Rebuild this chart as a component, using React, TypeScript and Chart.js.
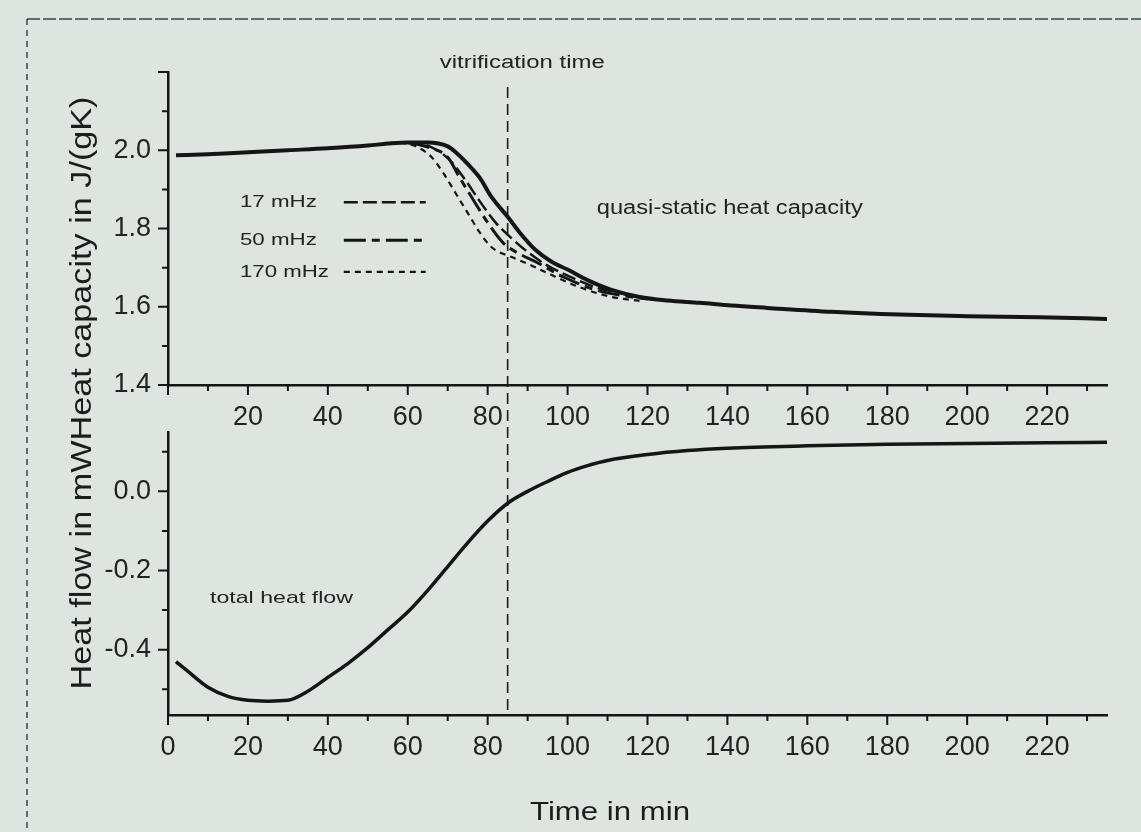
import React, { useEffect, useRef } from 'react';
import { Chart, registerables } from 'chart.js';

Chart.register(...registerables);

const FONT = "'Liberation Sans', Arial, Helvetica, sans-serif";
const INK = '#151515';
const BG = '#dee5e0';

// ---- axes ----
const X_TICK_VALUES = [0, 20, 40, 60, 80, 100, 120, 140, 160, 180, 200, 220];
const X_TICK_LABELS = ['0', '20', '40', '60', '80', '100', '120', '140', '160', '180', '200', '220'];
const X_MINOR_TICKS = [10, 30, 50, 70, 90, 110, 130, 150, 170, 190, 210, 230];

const Y_TOP_TICK_VALUES = [1.4, 1.6, 1.8, 2.0, 2.2];
const Y_TOP_TICK_LABELS = ['1.4', '1.6', '1.8', '2.0', ''];
const Y_TOP_MINOR_TICKS = [1.5, 1.7, 1.9, 2.1];

const Y_BOT_TICK_VALUES = [-0.4, -0.2, 0.0];
const Y_BOT_TICK_LABELS = ['-0.4', '-0.2', '0.0'];
const Y_BOT_MINOR_TICKS = [-0.5, -0.3, -0.1, 0.1];

const VITRIFICATION_TIME = 85;

// ---- heat capacity (top panel) ----
const TIME_QS = [2, 10, 20, 30, 40, 50, 55, 60, 65, 70, 72, 75, 78, 81, 85, 88, 92, 96, 100, 105, 111, 118, 125, 133, 141, 150, 166, 183, 200, 218, 235];
const CP_QS = [1.987, 1.99, 1.995, 2.0, 2.005, 2.012, 2.017, 2.02, 2.02, 2.01, 1.995, 1.965, 1.93, 1.88, 1.83, 1.79, 1.745, 1.715, 1.695, 1.668, 1.643, 1.625, 1.616, 1.61, 1.603, 1.597, 1.587, 1.58, 1.576, 1.573, 1.569];

const TIME_17 = [60, 65, 70, 74, 78, 82, 86, 90, 95, 101, 107, 113, 120];
const CP_17 = [2.02, 2.012, 1.98, 1.93, 1.87, 1.815, 1.775, 1.74, 1.705, 1.675, 1.65, 1.635, 1.622];

const TIME_50 = [60, 65, 70, 73, 76, 80, 84, 88, 92, 99, 107, 114, 120];
const CP_50 = [2.02, 2.008, 1.982, 1.93, 1.88, 1.815, 1.762, 1.735, 1.715, 1.676, 1.643, 1.628, 1.62];

const TIME_170 = [58, 62, 66, 69, 72, 75, 78, 81, 86, 90, 95, 103, 111, 118];
const CP_170 = [2.02, 2.01, 1.982, 1.94, 1.89, 1.84, 1.79, 1.752, 1.727, 1.71, 1.686, 1.65, 1.625, 1.615];

// ---- heat flow (bottom panel) ----
const TIME_HF = [2, 5, 10, 15, 20, 25, 30, 35, 40, 45, 50, 55, 60, 65, 70, 75, 80, 85, 90, 95, 100, 105, 110, 120, 130, 140, 160, 180, 200, 220, 235];
const HF = [-0.43, -0.455, -0.495, -0.518, -0.528, -0.53, -0.528, -0.505, -0.47, -0.435, -0.395, -0.35, -0.305, -0.25, -0.19, -0.13, -0.075, -0.03, 0.0, 0.025, 0.048, 0.065, 0.078, 0.093, 0.103, 0.109, 0.115, 0.119, 0.121, 0.123, 0.124];

const SERIES_LABELS = ['17 mHz', '50 mHz', '170 mHz'];

const pts = (xs: number[], ys: number[]) => xs.map((x, i) => ({ x, y: ys[i] }));

function stretchText(
  ctx: CanvasRenderingContext2D,
  text: string,
  x: number,
  y: number,
  size: number,
  width: number,
  align: 'left' | 'center' = 'left',
  rotate = 0,
  color = '#222'
) {
  ctx.save();
  ctx.font = `${size}px ${FONT}`;
  const w = ctx.measureText(text).width;
  ctx.translate(x, y);
  if (rotate) ctx.rotate(rotate);
  ctx.scale(width / w, 1);
  ctx.fillStyle = color;
  ctx.textBaseline = 'middle';
  ctx.textAlign = align;
  ctx.fillText(text, 0, 0);
  ctx.restore();
}

function drawTicks(chart: any, xMinor: number[], yMinor: number[]) {
  const ctx: CanvasRenderingContext2D = chart.ctx;
  const xs = chart.scales.x;
  const ys = chart.scales.y;
  ctx.save();
  ctx.strokeStyle = INK;
  ctx.lineWidth = 2;
  ctx.setLineDash([]);
  const y0 = xs.top;
  const x0 = ys.right;
  ctx.beginPath();
  xs.ticks.forEach((t: any) => {
    const p = xs.getPixelForValue(t.value);
    ctx.moveTo(p, y0);
    ctx.lineTo(p, y0 + 10);
  });
  xMinor.forEach((v) => {
    const p = xs.getPixelForValue(v);
    ctx.moveTo(p, y0);
    ctx.lineTo(p, y0 + 6);
  });
  ys.ticks.forEach((t: any) => {
    const p = ys.getPixelForValue(t.value);
    ctx.moveTo(x0, p);
    ctx.lineTo(x0 - 10, p);
  });
  yMinor.forEach((v) => {
    const p = ys.getPixelForValue(v);
    ctx.moveTo(x0, p);
    ctx.lineTo(x0 - 6, p);
  });
  ctx.stroke();
  ctx.restore();
}

const topDecor = {
  id: 'topDecor',
  afterDraw(chart: any) {
    const ctx: CanvasRenderingContext2D = chart.ctx;
    const xs = chart.scales.x;
    const ys = chart.scales.y;
    drawTicks(chart, X_MINOR_TICKS, Y_TOP_MINOR_TICKS);

    // frame of the scanned figure
    ctx.save();
    ctx.strokeStyle = '#34444f';
    ctx.lineWidth = 1.5;
    ctx.setLineDash([13, 3]);
    ctx.beginPath();
    ctx.moveTo(27, 19);
    ctx.lineTo(chart.width, 19);
    ctx.stroke();
    ctx.setLineDash([6, 5]);
    ctx.beginPath();
    ctx.moveTo(27, 19);
    ctx.lineTo(27, chart.height);
    ctx.stroke();
    ctx.restore();

    // annotations
    stretchText(ctx, 'vitrification time', xs.getPixelForValue(68), ys.getPixelForValue(2.222), 18, 165);
    stretchText(ctx, 'quasi-static heat capacity', xs.getPixelForValue(107.3), ys.getPixelForValue(1.852), 20, 266);

    // legend
    const legendY = [1.867, 1.77, 1.689];
    const legendW = [77, 77, 89];
    SERIES_LABELS.forEach((lab, i) => {
      const py = ys.getPixelForValue(legendY[i]);
      stretchText(ctx, lab, xs.getPixelForValue(18), py, 17, legendW[i]);
      const ds = chart.data.datasets[i + 1];
      ctx.save();
      ctx.strokeStyle = INK;
      ctx.lineWidth = ds.borderWidth;
      ctx.setLineDash(ds.borderDash || []);
      ctx.beginPath();
      ctx.moveTo(xs.getPixelForValue(44), py);
      ctx.lineTo(xs.getPixelForValue(64.5), py);
      ctx.stroke();
      ctx.restore();
    });

    // shared y-axis title
    stretchText(ctx, 'Heat flow in mWHeat capacity in J/(gK)', 83, 393, 30, 593, 'center', -Math.PI / 2, '#1c1c1c');
  },
};

const botDecor = {
  id: 'botDecor',
  afterDraw(chart: any) {
    const ctx: CanvasRenderingContext2D = chart.ctx;
    const xs = chart.scales.x;
    const ys = chart.scales.y;
    drawTicks(chart, X_MINOR_TICKS, Y_BOT_MINOR_TICKS);

    // vitrification time marker (spans both panels)
    const vx = xs.getPixelForValue(VITRIFICATION_TIME);
    ctx.save();
    ctx.strokeStyle = '#1a1a1a';
    ctx.lineWidth = 1.6;
    ctx.setLineDash([11, 6]);
    ctx.beginPath();
    ctx.moveTo(vx, 87);
    ctx.lineTo(vx, chart.chartArea.bottom);
    ctx.stroke();
    ctx.restore();

    stretchText(ctx, 'total heat flow', xs.getPixelForValue(10.5), ys.getPixelForValue(-0.269), 17, 143);
    stretchText(ctx, 'Time in min', 610, 813, 26, 160, 'center', 0, '#1c1c1c');
  },
};

const tickFont = { family: FONT, size: 27 };

function xScale(labels: string[], boxHeight: number) {
  return {
    type: 'linear' as const,
    min: 0,
    max: 235,
    afterFit: (s: any) => {
      s.height = boxHeight;
    },
    afterBuildTicks: (s: any) => {
      s.ticks = X_TICK_VALUES.map((v) => ({ value: v }));
    },
    ticks: {
      callback: (_v: any, i: number) => labels[i],
      font: tickFont,
      color: '#222',
      padding: 6,
      maxRotation: 0,
      autoSkip: false,
    },
    grid: { display: false, drawTicks: true, tickLength: 10 },
    border: { display: true, color: INK, width: 2.5 },
  };
}

function yScale(min: number, max: number, values: number[], labels: string[]) {
  return {
    type: 'linear' as const,
    min,
    max,
    afterFit: (s: any) => {
      s.width = 168;
    },
    afterBuildTicks: (s: any) => {
      s.ticks = values.map((v) => ({ value: v }));
    },
    ticks: {
      callback: (_v: any, i: number) => labels[i],
      font: tickFont,
      color: '#222',
      padding: 7,
      autoSkip: false,
    },
    grid: { display: false, drawTicks: true, tickLength: 10 },
    border: { display: true, color: INK, width: 2.5 },
  };
}

const lineBase = {
  pointRadius: 0,
  borderColor: INK,
  fill: false,
  cubicInterpolationMode: 'monotone' as const,
};

export default function App() {
  const topRef = useRef<HTMLCanvasElement>(null);
  const botRef = useRef<HTMLCanvasElement>(null);

  useEffect(() => {
    const top = new Chart(topRef.current!, {
      type: 'line',
      data: {
        datasets: [
          { ...lineBase, label: 'quasi-static', data: pts(TIME_QS, CP_QS), borderWidth: 4 },
          { ...lineBase, label: SERIES_LABELS[0], data: pts(TIME_17, CP_17), borderWidth: 2.5, borderDash: [14, 5] },
          { ...lineBase, label: SERIES_LABELS[1], data: pts(TIME_50, CP_50), borderWidth: 3, borderDash: [22, 6, 8, 6] },
          { ...lineBase, label: SERIES_LABELS[2], data: pts(TIME_170, CP_170), borderWidth: 2.2, borderDash: [6, 5] },
        ],
      },
      options: {
        animation: false,
        responsive: false,
        layout: { padding: { top: 72, right: 34, left: 0, bottom: 0 } },
        plugins: { legend: { display: false }, tooltip: { enabled: false } },
        scales: {
          x: xScale(X_TICK_LABELS.map((l) => (l === '0' ? '' : l)), 832 - 385),
          y: yScale(1.4, 2.2, Y_TOP_TICK_VALUES, Y_TOP_TICK_LABELS),
        },
      } as any,
      plugins: [topDecor],
    });

    const bot = new Chart(botRef.current!, {
      type: 'line',
      data: {
        datasets: [{ ...lineBase, label: 'total heat flow', data: pts(TIME_HF, HF), borderWidth: 3.5 }],
      },
      options: {
        animation: false,
        responsive: false,
        layout: { padding: { top: 432, right: 34, left: 0, bottom: 0 } },
        plugins: { legend: { display: false }, tooltip: { enabled: false } },
        scales: {
          x: xScale(X_TICK_LABELS, 832 - 715),
          y: yScale(-0.565, 0.15, Y_BOT_TICK_VALUES, Y_BOT_TICK_LABELS),
        },
      } as any,
      plugins: [botDecor],
    });

    return () => {
      top.destroy();
      bot.destroy();
    };
  }, []);

  return (
    <div
      style={{
        position: 'fixed',
        left: 0,
        top: 0,
        width: 1141,
        height: 832,
        background: BG,
        overflow: 'hidden',
      }}
    >
      <canvas ref={topRef} width={1141} height={832} style={{ position: 'absolute', left: 0, top: 0, width: 1141, height: 832 }} />
      <canvas ref={botRef} width={1141} height={832} style={{ position: 'absolute', left: 0, top: 0, width: 1141, height: 832 }} />
    </div>
  );
}
